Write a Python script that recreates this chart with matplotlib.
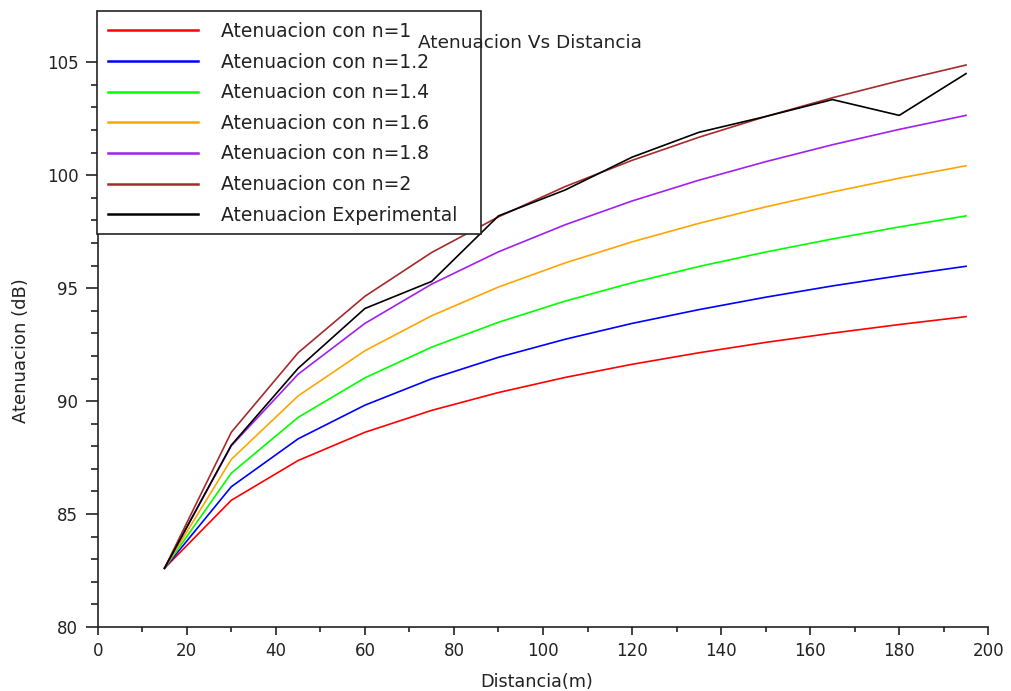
import matplotlib
matplotlib.use('Agg')
import matplotlib.pyplot as plt
from matplotlib.patches import Rectangle
from matplotlib.ticker import MultipleLocator

distancia = [15, 30, 45, 60, 75, 90, 105, 120, 135, 150, 165, 180, 195]

aten_n1 = [82.6, 85.61, 87.37, 88.62, 89.59, 90.38, 91.05, 91.63, 92.14, 92.6, 93.01, 93.39, 93.74]
aten_n12 = [82.6, 86.21, 88.33, 89.82, 90.99, 91.94, 92.74, 93.44, 94.05, 94.6, 95.10, 95.55, 95.97]
aten_n14 = [82.6, 86.81, 89.28, 91.03, 92.39, 93.49, 94.43, 95.24, 95.96, 96.6, 97.18, 97.71, 98.20]
aten_n16 = [82.6, 87.42, 90.23, 92.23, 93.78, 95.05, 96.12, 97.05, 97.87, 98.6, 99.26, 99.87, 100.42]
aten_n18 = [82.6, 88.02, 91.19, 93.44, 95.18, 96.61, 97.81, 98.86, 99.78, 100.6, 101.35, 102.03, 102.65]
aten_n2 = [82.6, 88.62, 92.14, 94.64, 96.58, 98.16, 99.50, 100.66, 101.68, 102.6, 103.43, 104.18, 104.88]
aten_exp = [82.6, 88.05, 91.45, 94.1, 95.3, 98.2, 99.35, 100.8, 101.9, 102.6, 103.35, 102.65, 104.5]

etiquetas = ['Atenuacion con n=1', 'Atenuacion con n=1.2', 'Atenuacion con n=1.4',
             'Atenuacion con n=1.6', 'Atenuacion con n=1.8', 'Atenuacion con n=2',
             'Atenuacion Experimental']
colores = ['#ff0000', '#0000ff', '#00ff00', '#ffa500', '#a020f0', '#a52a2a', '#000000']

W, H = 1011, 691
fig = plt.figure(figsize=(W / 100, H / 100), dpi=100)
ax = fig.add_axes([97.7 / W, 1 - 627 / H, 890.6 / W, 564.7 / H])

series = [aten_n1, aten_n12, aten_n14, aten_n16, aten_n18, aten_n2, aten_exp]
for y, lab, col in zip(series, etiquetas, colores):
    ax.plot(distancia, y, color=col, lw=1.2, label=lab)

ax.set_xlim(0, 200)
ax.set_ylim(80, 105)
ax.xaxis.set_major_locator(MultipleLocator(20))
ax.xaxis.set_minor_locator(MultipleLocator(10))
ax.yaxis.set_major_locator(MultipleLocator(5))
ax.yaxis.set_minor_locator(MultipleLocator(1))

ax.spines['top'].set_visible(False)
ax.spines['right'].set_visible(False)
for s in ['left', 'bottom']:
    ax.spines[s].set_linewidth(1.2)
    ax.spines[s].set_color('#222222')

ax.tick_params(axis='y', which='major', direction='out', length=8.5, width=1.2, pad=5.5, labelsize=12, colors='#222222')
ax.tick_params(axis='y', which='minor', direction='out', length=5, width=1.2, colors='#222222')
ax.tick_params(axis='x', which='major', direction='out', length=6, width=1.2, pad=5, labelsize=12, colors='#222222')
ax.tick_params(axis='x', which='minor', direction='out', length=3.6, width=1.2, colors='#222222')

ax.set_xlabel('Distancia(m)', fontsize=12.7, color='#222222')
ax.set_ylabel('Atenuacion (dB)', fontsize=13, color='#222222')
ax.xaxis.set_label_coords(0.493, -0.0815)
ax.yaxis.set_label_coords(-0.076, 0.49)

# legend box drawn by hand so it gets the wider right margin of the original
caja = Rectangle((97 / W, 1 - 234 / H), 384 / W, 223.3 / H, transform=fig.transFigure,
                 facecolor='white', edgecolor='#222222', lw=1.2, zorder=4.5, clip_on=False)
ax.add_patch(caja)

leg = ax.legend(loc='upper left', bbox_to_anchor=(97 / W, 1 - 10.7 / H),
                bbox_transform=fig.transFigure, fontsize=13.5, frameon=False,
                borderpad=0.6, handlelength=4.8, handletextpad=1.2,
                labelspacing=0.62, borderaxespad=0)
for t in leg.get_texts():
    t.set_color('#222222')
for h in leg.get_lines():
    h.set_linewidth(1.8)

fig.text(530 / W, 1 - 43 / H, 'Atenuacion Vs Distancia', fontsize=13.3, ha='center', va='center',
         color='#222222')

fig.savefig('out.png', dpi=100)
